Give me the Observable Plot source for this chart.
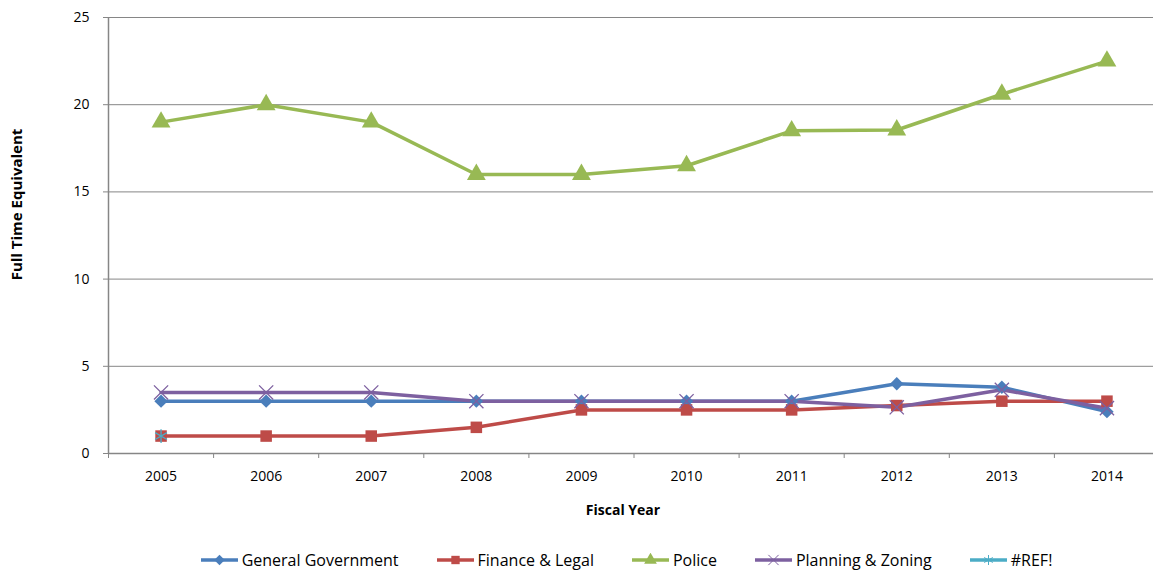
<!DOCTYPE html>
<html><head><meta charset="utf-8">
<script src="https://cdn.jsdelivr.net/npm/d3@7"></script>
<script src="https://cdn.jsdelivr.net/npm/@observablehq/plot@0.6"></script>
<style>
body{margin:0;background:#fff;overflow:hidden;font-family:"Open Sans",sans-serif}
#legend{display:flex;justify-content:center;align-items:center;height:40px;margin-top:10px;gap:38px;padding-left:100px;font-size:16px;color:#000}
.item{display:flex;align-items:center;gap:4px}
</style></head><body><div id="chart"></div><div id="legend"></div>
<script>
const years = [2005, 2006, 2007, 2008, 2009, 2010, 2011, 2012, 2013, 2014];
const generalGovernment = [3, 3, 3, 3, 3, 3, 3, 4, 3.8, 2.4];
const financeLegal = [1, 1, 1, 1.5, 2.5, 2.5, 2.5, 2.75, 3, 3];
const police = [19, 20, 19, 16, 16, 16.5, 18.5, 18.55, 20.6, 22.5];
const planningZoning = [3.5, 3.5, 3.5, 3, 3, 3, 3, 2.65, 3.65, 2.6];
const refValues = [1];
const yTicks = [0, 5, 10, 15, 20, 25];

const seriesNames = ["General Government", "Finance & Legal", "Police", "Planning & Zoning", "#REF!"];
const seriesValues = [generalGovernment, financeLegal, police, planningZoning, refValues];
const seriesColors = ["#4A7EBB", "#BE4B48", "#98B954", "#7D60A0", "#4BACC6"];
const seriesSymbols = ["diamond2", "square", "triangle", "times", "asterisk"];
const strokeSymbols = new Set(["times", "asterisk"]);

const rows = seriesNames.flatMap((name, i) => seriesValues[i].map((v, j) => ({series: name, year: years[j], value: v})));
const boundaries = [years[0] - 0.5, ...years.map(y => y + 0.5)];
const gray = "#868686";

const dotMarks = seriesNames.map((name, i) => {
  const sym = seriesSymbols[i];
  const isStroke = strokeSymbols.has(sym);
  return Plot.dot(rows.filter(d => d.series === name), {
    x: "year", y: "value", symbol: () => sym,
    r: sym === "triangle" ? 7 : sym === "diamond2" ? 6 : 6.5,
    fill: isStroke ? "none" : seriesColors[i],
    stroke: isStroke ? seriesColors[i] : "none",
    strokeWidth: isStroke ? 1.3 : 0
  });
});

const chart = Plot.plot({
  width: 1153, height: 530,
  marginLeft: 108, marginRight: 0, marginTop: 17, marginBottom: 77,
  style: {fontFamily: "'Open Sans', sans-serif", fontSize: "14px", background: "#fff", color: "#000"},
  x: {type: "linear", domain: [boundaries[0], boundaries[boundaries.length - 1]], range: [108, 1159]},
  y: {domain: [0, 25]},
  marks: [
    Plot.gridY(yTicks, {stroke: gray, strokeOpacity: 1, strokeWidth: 1}),
    Plot.ruleX([boundaries[0]], {y1: 0, y2: 25, stroke: gray, strokeWidth: 1.5}),
    Plot.ruleY([0], {stroke: gray, strokeWidth: 1.5}),
    Plot.axisY({ticks: yTicks, tickSize: 5, tickPadding: 14, stroke: gray, fill: "#000", label: null, fontSize: 14}),
    Plot.axisX({ticks: boundaries, tickSize: 5, stroke: gray, tickFormat: () => "", label: null}),
    Plot.axisX({ticks: years, tickSize: 0, tickPadding: 18, tickFormat: d => String(d), fill: "#000", label: null, fontSize: 14}),
    Plot.line(rows, {x: "year", y: "value", z: "series", stroke: d => seriesColors[seriesNames.indexOf(d.series)], strokeWidth: 3.5, strokeLinejoin: "round"}),
    ...dotMarks,
    Plot.text(["Fiscal Year"], {frameAnchor: "bottom", dy: 61, dx: -8, fontWeight: "bold", fontSize: 14}),
    Plot.text(["Full Time Equivalent"], {frameAnchor: "left", textAnchor: "middle", dx: -91, dy: -31, rotate: -90, fontWeight: "bold", fontSize: 15})
  ]
});
document.getElementById("chart").appendChild(chart);

const legend = d3.select("#legend");
const d3Sym = {diamond2: d3.symbolDiamond2, square: d3.symbolSquare, triangle: d3.symbolTriangle, times: d3.symbolTimes, asterisk: d3.symbolAsterisk};
seriesNames.forEach((name, i) => {
  const item = legend.append("div").attr("class", "item");
  const svg = item.append("svg").attr("width", 37).attr("height", 14);
  svg.append("line").attr("x1", 0).attr("x2", 37).attr("y1", 7).attr("y2", 7).attr("stroke", seriesColors[i]).attr("stroke-width", 3.5);
  const sym = seriesSymbols[i];
  const isStroke = strokeSymbols.has(sym);
  svg.append("path").attr("transform", "translate(18.5,7)")
    .attr("d", d3.symbol(d3Sym[sym], 70)())
    .attr("fill", isStroke ? "none" : seriesColors[i])
    .attr("stroke", isStroke ? seriesColors[i] : "none");
  item.append("span").text(name);
});
</script></body></html>
